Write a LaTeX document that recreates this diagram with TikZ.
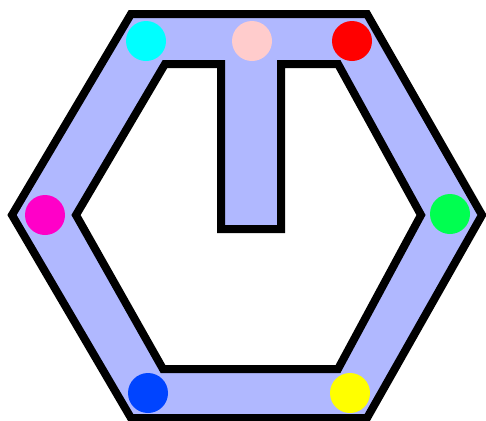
\documentclass[tikz,border=0pt]{standalone}
\usepackage{tikz}
\definecolor{bandblue}{RGB}{176, 184, 255}
\definecolor{dotcyan}{RGB}{0, 255, 255}
\definecolor{dotpink}{RGB}{255, 204, 204}
\definecolor{dotred}{RGB}{255, 0, 0}
\definecolor{dotmagenta}{RGB}{255, 0, 200}
\definecolor{dotgreen}{RGB}{0, 255, 80}
\definecolor{dotblue}{RGB}{0, 68, 255}
\definecolor{dotyellow}{RGB}{255, 255, 0}
\begin{document}
\begin{tikzpicture}[x=0.5pt, y=-0.5pt,
    band/.style={fill=bandblue, draw=black, line width=4pt, even odd rule, miter limit=10},
    dot/.style={circle, draw=none, inner sep=0pt, minimum size=20pt}
]
\useasboundingbox (0,0) rectangle (486,420);

% ring with the stem
\filldraw[band] (12,215) -- (131,14) -- (367,14) -- (482,215) -- (367,418) -- (131,418) -- cycle
    (76,215) -- (165,64) -- (221,64) -- (221,229) -- (281,229) -- (281,64) -- (338,64) -- (421,215) -- (338,369) -- (163,369) -- cycle;

\node (cyan)    [dot, fill=dotcyan]    at (146,41)  {};
\node (pink)    [dot, fill=dotpink]    at (252,41)  {};
\node (red)     [dot, fill=dotred]     at (352,41)  {};
\node (magenta) [dot, fill=dotmagenta] at (45,215)  {};
\node (green)   [dot, fill=dotgreen]   at (450,214) {};
\node (blue)    [dot, fill=dotblue]    at (148,393) {};
\node (yellow)  [dot, fill=dotyellow]  at (350,393) {};

\end{tikzpicture}
\end{document}
